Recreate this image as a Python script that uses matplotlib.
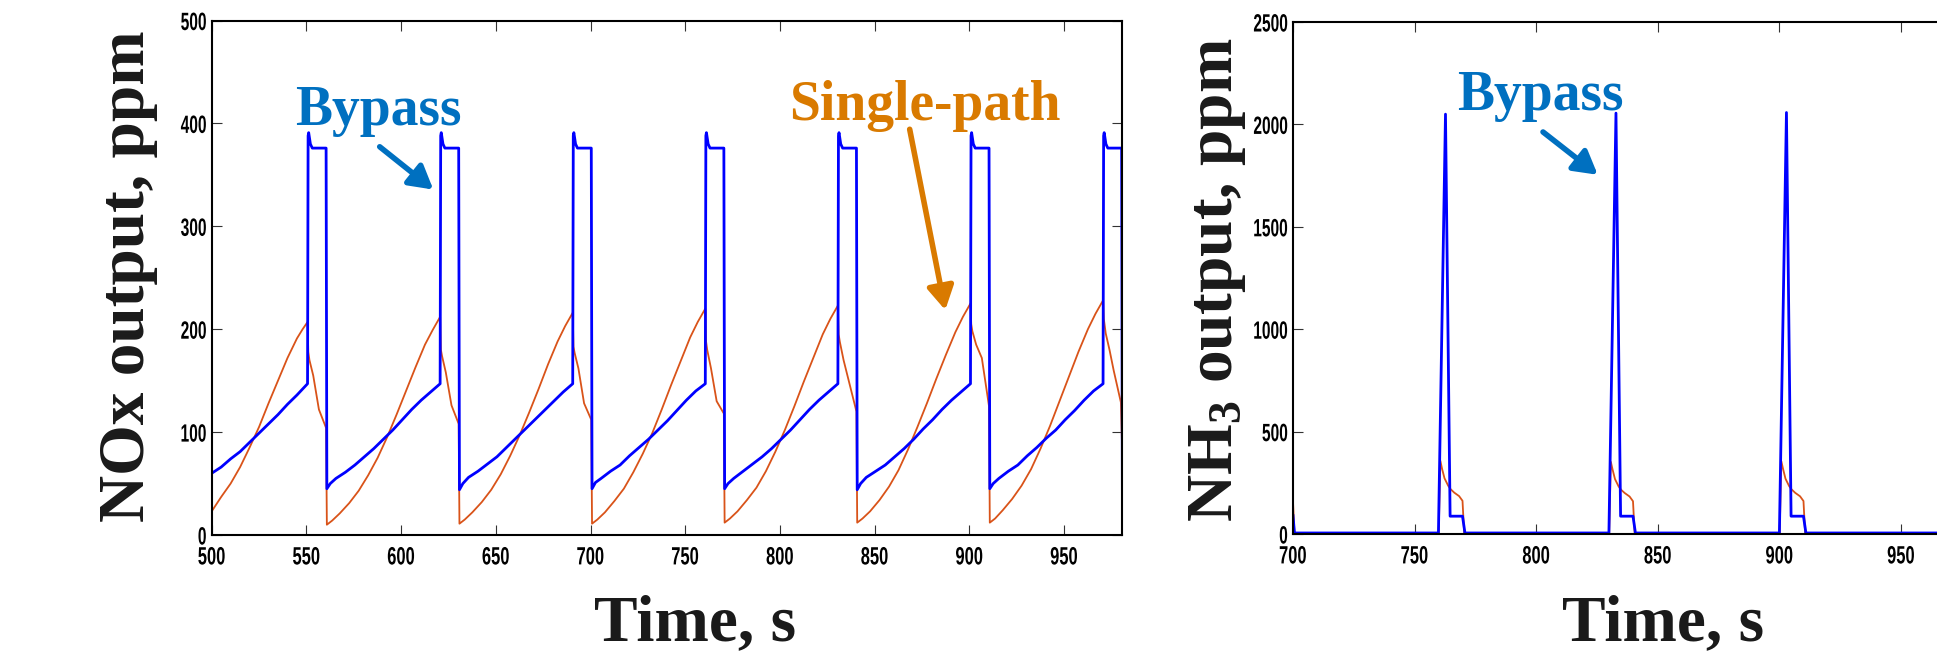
import matplotlib
matplotlib.use('Agg')
import matplotlib.pyplot as plt
from matplotlib.patheffects import AbstractPathEffect
from matplotlib.transforms import Affine2D

# ---------------- donnees NOx (graphique de gauche) ----------------

nox_bypass_t = [
    500, 505, 510, 515, 520, 525, 530, 535, 540, 545, 550.6, 550.9, 551.2, 552.1, 553.1, 560.4,
    560.8, 562.6, 565.6, 570.6, 575.6, 580.6, 585.6, 590.6, 595.6, 600.6, 605.6, 610.6, 615.6, 620.6, 620.9, 621.2, 622.1, 623.1, 630.4,
    630.8, 632.6, 635.6, 640.6, 645.6, 650.6, 655.6, 660.6, 665.6, 670.6, 675.6, 680.6, 685.6, 690.6, 690.9, 691.2, 692.1, 693.1, 700.4,
    700.8, 702.6, 705.6, 710.6, 715.6, 720.6, 725.6, 730.6, 735.6, 740.6, 745.6, 750.6, 755.6, 760.6, 760.9, 761.2, 762.1, 763.1, 770.4,
    770.8, 772.6, 775.6, 780.6, 785.6, 790.6, 795.6, 800.6, 805.6, 810.6, 815.6, 820.6, 825.6, 830.6, 830.9, 831.2, 832.1, 833.1, 840.4,
    840.8, 842.6, 845.6, 850.6, 855.6, 860.6, 865.6, 870.6, 875.6, 880.6, 885.6, 890.6, 895.6, 900.6, 900.9, 901.2, 902.1, 903.1, 910.4,
    910.8, 912.6, 915.6, 920.6, 925.6, 930.6, 935.6, 940.6, 945.6, 950.6, 955.6, 960.6, 965.6, 970.6, 970.9, 971.2, 972.1, 973.1, 980.4,
    980.8]
nox_bypass_v = [
    60, 66, 74, 81, 90, 99, 108, 117, 127, 136, 147, 388, 391, 380, 376, 376,
    45, 50, 55, 61, 68, 76, 84, 93, 102, 112, 122, 131, 139, 147, 388, 391, 380, 376, 376,
    44, 50, 56, 62, 69, 76, 85, 94, 103, 112, 121, 130, 139, 147, 388, 391, 380, 376, 376,
    45, 51, 55, 62, 68, 77, 85, 93, 102, 111, 121, 131, 140, 147, 388, 391, 380, 376, 376,
    45, 50, 55, 62, 69, 76, 84, 93, 102, 112, 122, 131, 139, 147, 388, 391, 380, 376, 376,
    44, 50, 56, 62, 68, 76, 84, 93, 103, 112, 122, 131, 139, 147, 388, 391, 380, 376, 376,
    45, 50, 55, 62, 68, 77, 85, 94, 102, 112, 121, 131, 140, 147, 388, 391, 380, 376, 376,
    45]

nox_single_t = [
    500, 505, 510, 515, 520, 525, 530, 535, 540, 545, 548, 550.6, 551.0, 551.6, 553.6, 556.6, 560.4,
    560.8, 563.6, 567.6, 572.6, 577.6, 582.6, 587.6, 592.6, 597.6, 602.6, 607.6, 612.6, 616.6, 620.6, 621.0, 621.6, 623.6, 626.6, 630.4,
    630.8, 633.6, 637.6, 642.6, 647.6, 652.6, 657.6, 662.6, 667.6, 672.6, 677.6, 682.6, 686.6, 690.6, 691.0, 691.6, 693.6, 696.6, 700.4,
    700.8, 703.6, 707.6, 712.6, 717.6, 722.6, 727.6, 732.6, 737.6, 742.6, 747.6, 752.6, 756.6, 760.6, 761.0, 761.6, 763.6, 766.6, 770.4,
    770.8, 773.6, 777.6, 782.6, 787.6, 792.6, 797.6, 802.6, 807.6, 812.6, 817.6, 822.6, 826.6, 830.6, 831.0, 831.6, 833.6, 836.6, 840.4,
    840.8, 843.6, 847.6, 852.6, 857.6, 862.6, 867.6, 872.6, 877.6, 882.6, 887.6, 892.6, 896.6, 900.6, 901.0, 901.6, 903.6, 906.6, 910.4,
    910.8, 913.6, 917.6, 922.6, 927.6, 932.6, 937.6, 942.6, 947.6, 952.6, 957.6, 962.6, 966.6, 970.6, 971.0, 972.0, 974.0, 976.2, 980.0,
    980.8]
nox_single_v = [
    23, 37, 50, 66, 85, 105, 128, 150, 172, 191, 200, 207, 178, 170, 155, 122, 104,
    10, 14, 21, 31, 43, 58, 75, 95, 117, 140, 163, 185, 199, 212, 180, 174, 158, 126, 108,
    11, 15, 22, 32, 44, 59, 77, 97, 119, 142, 166, 188, 203, 216, 183, 177, 162, 128, 112,
    11, 15, 22, 33, 45, 61, 79, 99, 122, 146, 169, 192, 207, 220, 188, 180, 162, 130, 118,
    12, 16, 23, 34, 46, 62, 81, 102, 125, 149, 172, 195, 210, 223, 195, 188, 170, 148, 120,
    12, 16, 23, 34, 47, 63, 83, 105, 128, 152, 175, 197, 212, 225, 205, 198, 185, 172, 125,
    12, 16, 24, 35, 48, 64, 84, 106, 130, 154, 178, 200, 215, 228, 210, 196, 180, 160, 129,
    76]

# ---------------- donnees NH3 (graphique de droite) ----------------

nh3_bypass_t = [700.0, 700.6, 759.8, 762.7, 764.6, 769.7, 770.7, 829.9, 832.8, 834.7, 839.8, 840.8,
                900.0, 902.9, 904.8, 909.9, 910.9, 970.1, 973.0, 974.9, 980.0, 981.0, 1000.0]
nh3_bypass_v = [90, 5, 5, 2050, 87, 87, 5, 5, 2055, 87, 87, 5,
                5, 2058, 87, 87, 5, 5, 2055, 87, 87, 5, 5]

nh3_single_t = [700.0, 700.6,
                759.9, 760.6, 761.3, 762.3, 763.8, 764.8, 766.3, 768.3, 769.7, 770.4,
                830.0, 830.7, 831.4, 832.4, 833.9, 834.9, 836.4, 838.4, 839.8, 840.5,
                900.1, 900.8, 901.5, 902.5, 904.0, 905.0, 906.5, 908.5, 909.9, 910.6,
                970.2, 970.9, 971.6, 972.6, 974.1, 975.1, 976.6, 978.6, 980.0, 980.7, 1000.0]
nh3_single_v = [158, 0,
                0, 357, 318, 272, 236, 219, 202, 185, 162, 0,
                0, 352, 315, 268, 232, 216, 200, 183, 160, 0,
                0, 355, 318, 270, 234, 218, 201, 184, 161, 0,
                0, 355, 318, 270, 234, 218, 201, 184, 161, 0, 0]

nox_xticks = [500, 550, 600, 650, 700, 750, 800, 850, 900, 950]
nox_yticks = [0, 100, 200, 300, 400, 500]
nh3_xticks = [700, 750, 800, 850, 900, 950]
nh3_yticks = [0, 500, 1000, 1500, 2000, 2500]

# ---------------- style ----------------

BLUE = '#0000FF'
ORANGE = '#D95319'
TXT_BLUE = '#0070C0'
TXT_ORANGE = '#D97A00'
LABEL_FONT = ['Liberation Serif', 'DejaVu Serif']
TICK_FONT = ['Liberation Sans', 'DejaVu Sans']

plt.rcParams['mathtext.fontset'] = 'custom'
plt.rcParams['mathtext.rm'] = 'Liberation Serif:bold'
plt.rcParams['mathtext.it'] = 'Liberation Serif:bold'
plt.rcParams['mathtext.bf'] = 'Liberation Serif:bold'


class Condense(AbstractPathEffect):
    # resserre les chiffres horizontalement (police etroite comme dans l'original)
    def __init__(self, sx, anchor='center'):
        super().__init__()
        self.sx = sx
        self.anchor = anchor

    def draw_path(self, renderer, gc, tpath, affine, rgbFace=None):
        xs = tpath.vertices[:, 0]
        if len(xs) == 0:
            return
        pivot = xs.max() if self.anchor == 'right' else 0.5 * (xs.min() + xs.max())
        squeeze = Affine2D().translate(-pivot, 0).scale(self.sx, 1).translate(pivot, 0)
        renderer.draw_path(gc, tpath, squeeze + affine, rgbFace)


W, H = 1937, 652
fig = plt.figure(figsize=(W / 100, H / 100), dpi=100)

# positions en pixels -> fraction de figure
ax1 = fig.add_axes([211.7 / W, 1 - 535 / H, (1122 - 211.7) / W, (535 - 20.5) / H])
ax2 = fig.add_axes([1293 / W, 1 - 534 / H, 729.6 / W, (534 - 22) / H])


def style_axes(ax, xticks, yticks):
    ax.set_xticks(xticks)
    ax.set_yticks(yticks)
    ax.tick_params(direction='in', length=7, width=0.8, top=True, right=True,
                   color='#333333', labelsize=18)
    ax.tick_params(axis='x', pad=7.5)
    ax.tick_params(axis='y', pad=3.5)
    for lab in ax.get_xticklabels():
        lab.set_fontfamily(TICK_FONT)
        lab.set_fontweight('bold')
        lab.set_path_effects([Condense(0.66)])
    for lab in ax.get_yticklabels():
        lab.set_fontfamily(TICK_FONT)
        lab.set_fontweight('bold')
        lab.set_path_effects([Condense(0.62, 'right')])
    for sp in ax.spines.values():
        sp.set_linewidth(1.5)
        sp.set_color('black')


# ---------------- graphique NOx ----------------

ax1.plot(nox_single_t, nox_single_v, color=ORANGE, lw=1.3)
ax1.plot(nox_bypass_t, nox_bypass_v, color=BLUE, lw=2.0)
ax1.set_xlim(500, 980.6)
ax1.set_ylim(0, 500)
style_axes(ax1, nox_xticks, nox_yticks)

arrow = dict(arrowstyle='-|>,head_length=0.7,head_width=0.4', lw=4, mutation_scale=20,
             shrinkA=0, shrinkB=0)
ax1.text(544, 398, 'Bypass', color=TXT_BLUE, fontsize=40, fontweight='bold',
         family=LABEL_FONT, ha='left', va='baseline')
ax1.annotate('', xy=(617, 335.7), xytext=(588.7, 377.3),
             arrowprops=dict(arrow, color=TXT_BLUE))
ax1.text(804.7, 403, 'Single-path', color=TXT_ORANGE, fontsize=40, fontweight='bold',
         family=LABEL_FONT, ha='left', va='baseline')
ax1.annotate('', xy=(887.3, 218.6), xytext=(868.5, 394.3),
             arrowprops=dict(arrow, color=TXT_ORANGE))

# ---------------- graphique NH3 ----------------

ax2.plot(nh3_single_t, nh3_single_v, color=ORANGE, lw=1.3)
ax2.plot(nh3_bypass_t, nh3_bypass_v, color=BLUE, lw=2.0)
ax2.set_xlim(700, 1000)
ax2.set_ylim(0, 2500)
style_axes(ax2, nh3_xticks, nh3_yticks)

ax2.text(767.3, 2070, 'Bypass', color=TXT_BLUE, fontsize=40, fontweight='bold',
         family=LABEL_FONT, ha='left', va='baseline')
ax2.annotate('', xy=(825.3, 1754), xytext=(802.8, 1963),
             arrowprops=dict(arrow, color=TXT_BLUE))

# ---------------- titres des axes ----------------

lab = dict(fontsize=47, fontweight='bold', family=LABEL_FONT, color='#1a1a1a')
fig.text(144 / W, 1 - 276 / H, 'NOx output, ppm', rotation=90, rotation_mode='anchor',
         ha='center', va='baseline', **lab)
fig.text(1232 / W, 1 - 280 / H, r'NH$_3$ output, ppm', rotation=90, rotation_mode='anchor',
         ha='center', va='baseline', **lab)
fig.text(695 / W, 1 - 640 / H, 'Time, s', ha='center', va='baseline', **lab)
fig.text(1663 / W, 1 - 640 / H, 'Time, s', ha='center', va='baseline', **lab)

fig.savefig('out.png', dpi=100)
